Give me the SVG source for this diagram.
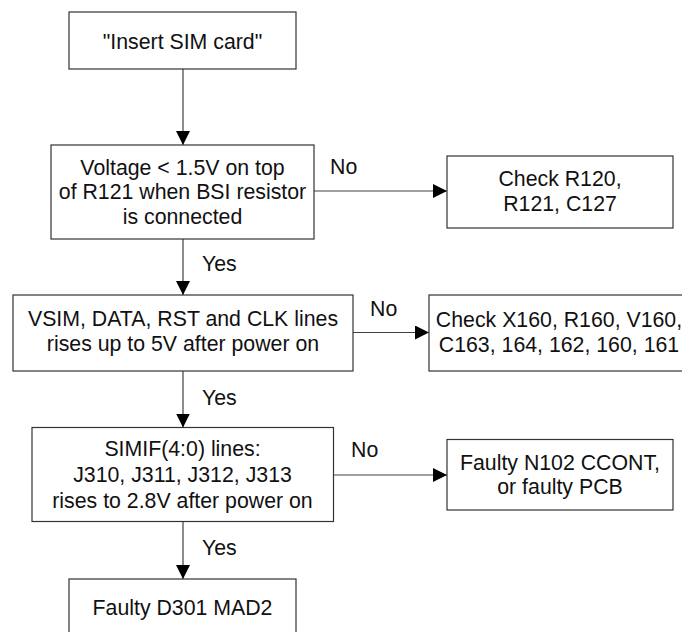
<svg xmlns="http://www.w3.org/2000/svg" width="682" height="632" viewBox="0 0 682 632">
<defs>
<marker id="arr" markerWidth="14" markerHeight="14" refX="14" refY="7" orient="auto" markerUnits="userSpaceOnUse">
<path d="M0,0 L14,7 L0,14 z" fill="#000"/>
</marker>
<style>
.box{fill:#fff;stroke:#333;stroke-width:1.2}
.t{font-family:"Liberation Sans",Arial,sans-serif;font-size:21.3px;fill:#111;text-anchor:middle}
.l{font-family:"Liberation Sans",Arial,sans-serif;font-size:21.3px;fill:#111}
.c{stroke:#404040;stroke-width:1.2;fill:none;marker-end:url(#arr)}
</style>
</defs>
<rect width="682" height="632" fill="#fff"/>
<g id="connectors">
<line class="c" x1="183" y1="69" x2="183" y2="145"/>
<line class="c" x1="314" y1="191" x2="447" y2="191"/>
<line class="c" x1="183" y1="239" x2="183" y2="295"/>
<line class="c" x1="353" y1="332.5" x2="429" y2="332.5"/>
<line class="c" x1="183" y1="371" x2="183" y2="427.5"/>
<line class="c" x1="333" y1="475" x2="447" y2="475"/>
<line class="c" x1="183" y1="521.5" x2="183" y2="579"/>
<text class="l" x="330" y="174">No</text>
<text class="l" x="202" y="271">Yes</text>
<text class="l" x="370" y="316">No</text>
<text class="l" x="202" y="404.5">Yes</text>
<text class="l" x="351" y="456.5">No</text>
<text class="l" x="202" y="555">Yes</text>
</g>
<g id="insert">
<rect class="box" x="69" y="12" width="227" height="57"/>
<text class="t" x="182.5" y="48.5">"Insert SIM card"</text>
</g>
<g id="voltage">
<rect class="box" x="51" y="145" width="263" height="94"/>
<text class="t" x="182.5" y="174.5">Voltage &lt; 1.5V on top</text>
<text class="t" x="182.5" y="199">of R121 when BSI resistor</text>
<text class="t" x="182.5" y="223.5">is connected</text>
</g>
<g id="checkR120">
<rect class="box" x="447" y="156" width="226" height="72"/>
<text class="t" x="560" y="186">Check R120,</text>
<text class="t" x="560" y="210.5">R121, C127</text>
</g>
<g id="vsim">
<rect class="box" x="13" y="295" width="340" height="76"/>
<text class="t" x="183" y="326">VSIM, DATA, RST and CLK lines</text>
<text class="t" x="183" y="350.5">rises up to 5V after power on</text>
</g>
<g id="checkX160">
<rect class="box" x="429" y="295" width="260" height="76"/>
<text class="t" x="559" y="326.5">Check X160, R160, V160,</text>
<text class="t" x="559" y="351.5">C163, 164, 162, 160, 161</text>
</g>
<g id="simif">
<rect class="box" x="32" y="427.5" width="301.5" height="94"/>
<text class="t" x="182.5" y="456">SIMIF(4:0) lines:</text>
<text class="t" x="182.5" y="482">J310, J311, J312, J313</text>
<text class="t" x="182.5" y="508">rises to 2.8V after power on</text>
</g>
<g id="faultyN102">
<rect class="box" x="447" y="439.5" width="226" height="70.5"/>
<text class="t" x="560" y="469.5">Faulty N102 CCONT,</text>
<text class="t" x="560" y="494">or faulty PCB</text>
</g>
<g id="faultyD301">
<rect class="box" x="69" y="579" width="227" height="60"/>
<text class="t" x="182.5" y="615">Faulty D301 MAD2</text>
</g>
</svg>
